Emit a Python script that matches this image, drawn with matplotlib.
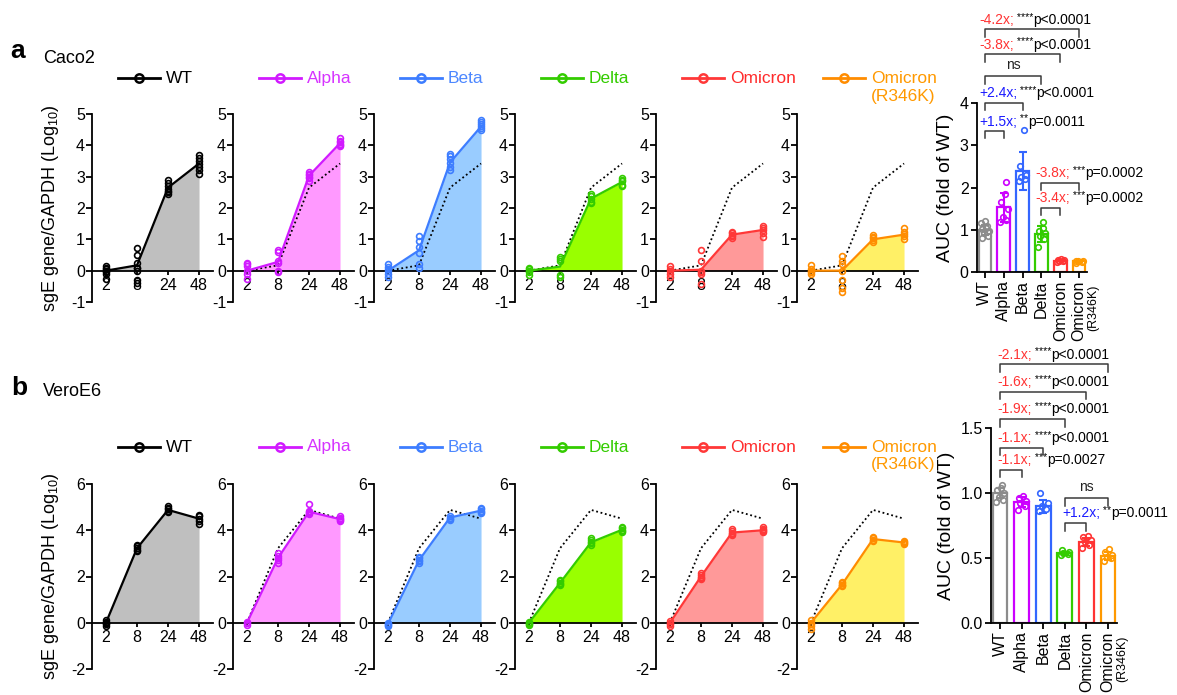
import numpy as np
import matplotlib.pyplot as plt
from matplotlib.lines import Line2D

plt.rcParams['font.family'] = ['Liberation Sans', 'DejaVu Sans']
plt.rcParams['mathtext.fontset'] = 'custom'
plt.rcParams['mathtext.rm'] = 'Liberation Sans'
plt.rcParams['axes.unicode_minus'] = False

# ---- data ----
hours = ['2', '8', '24', '48']
variants = ['WT', 'Alpha', 'Beta', 'Delta', 'Omicron', 'Omicron (R346K)']
bar_labels = ['WT', 'Alpha', 'Beta', 'Delta', 'Omicron', 'Omicron']

line_colors = ['#000000', '#d11aff', '#3d7dff', '#33cc00', '#ff3838', '#ff8c00']
fill_colors = ['#bfbfbf', '#ff99ff', '#99ccff', '#99ff00', '#ff9999', '#fff066']
text_colors = ['#000000', '#d633ff', '#4d88ff', '#33cc00', '#ff2a2a', '#ff9900']
bar_colors = ['#8c8c8c', '#cc00ff', '#3366ff', '#33cc00', '#ff3333', '#ff9900']

# Caco2, sgE/GAPDH (log10), line = mean
caco2_mean = [
    [0.0, 0.17, 2.65, 3.42],
    [0.0, 0.28, 3.03, 4.07],
    [0.0, 0.65, 3.45, 4.60],
    [0.0, 0.13, 2.30, 2.83],
    [0.0, 0.03, 1.15, 1.30],
    [0.0, 0.00, 1.00, 1.15],
]
caco2_pts = [
    [[-0.25, -0.1, -0.05, 0.0, 0.05, 0.1, 0.15],
     [-0.4, -0.3, 0.0, 0.1, 0.1, 0.25, 0.5, 0.72],
     [2.45, 2.5, 2.55, 2.6, 2.7, 2.8, 2.9],
     [3.1, 3.2, 3.3, 3.4, 3.5, 3.6, 3.7]],
    [[-0.25, -0.1, 0.0, 0.15, 0.2, 0.25],
     [-0.05, 0.0, 0.25, 0.3, 0.6, 0.65],
     [2.85, 2.95, 3.0, 3.05, 3.1, 3.15],
     [3.98, 4.02, 4.05, 4.1, 4.15, 4.22]],
    [[-0.2, -0.1, 0.0, 0.05, 0.12, 0.2],
     [0.1, 0.2, 0.55, 0.75, 0.95, 1.12],
     [3.2, 3.3, 3.45, 3.55, 3.65, 3.72],
     [4.5, 4.55, 4.62, 4.68, 4.75, 4.8]],
    [[-0.15, -0.05, 0.0, 0.05, 0.1],
     [-0.2, -0.15, 0.3, 0.38, 0.45],
     [2.15, 2.2, 2.3, 2.38, 2.45],
     [2.7, 2.75, 2.85, 2.9, 2.97]],
    [[-0.2, -0.1, 0.0, 0.05, 0.15],
     [-0.42, -0.1, -0.05, 0.0, 0.3, 0.65],
     [1.05, 1.1, 1.15, 1.2, 1.25],
     [1.08, 1.2, 1.3, 1.35, 1.42]],
    [[-0.1, -0.05, 0.0, 0.05, 0.18],
     [-0.68, -0.55, -0.3, 0.0, 0.2, 0.32, 0.48],
     [0.92, 0.98, 1.03, 1.08, 1.15],
     [1.0, 1.1, 1.18, 1.25, 1.35]],
]

# VeroE6
vero_mean = [
    [0.0, 3.22, 4.88, 4.50],
    [0.0, 2.80, 4.80, 4.48],
    [-0.05, 2.70, 4.55, 4.85],
    [0.0, 1.72, 3.48, 4.02],
    [0.0, 2.00, 3.90, 4.00],
    [0.0, 1.65, 3.62, 3.47],
]
vero_pts = [
    [[-0.12, -0.05, 0.0, 0.05, 0.1], [3.1, 3.15, 3.22, 3.3, 3.35],
     [4.8, 4.85, 4.9, 4.95, 5.05], [4.25, 4.4, 4.5, 4.6, 4.65]],
    [[-0.08, 0.0, 0.05], [2.6, 2.7, 2.8, 2.9, 3.0],
     [4.7, 4.75, 4.8, 4.85, 5.15], [4.4, 4.45, 4.5, 4.55, 4.6]],
    [[-0.15, -0.1, -0.05, 0.0], [2.6, 2.65, 2.7, 2.8, 2.85],
     [4.45, 4.5, 4.55, 4.6], [4.75, 4.8, 4.85, 4.9, 4.95]],
    [[-0.1, -0.05, 0.0, 0.05], [1.62, 1.68, 1.72, 1.8, 1.85],
     [3.35, 3.45, 3.5, 3.6, 3.65], [3.92, 3.98, 4.02, 4.08, 4.15]],
    [[-0.12, -0.05, 0.0, 0.08], [1.9, 1.95, 2.0, 2.05, 2.15],
     [3.8, 3.85, 3.9, 3.98, 4.05], [3.92, 3.97, 4.0, 4.05, 4.12]],
    [[-0.25, -0.15, -0.05, 0.0, 0.1], [1.58, 1.62, 1.65, 1.7, 1.75],
     [3.55, 3.6, 3.65, 3.7], [3.4, 3.45, 3.5, 3.55]],
]

# AUC (fold of WT)
caco2_auc_mean = [1.0, 1.53, 2.38, 0.90, 0.27, 0.25]
caco2_auc_sd = [0.12, 0.35, 0.45, 0.18, 0.02, 0.02]
caco2_auc_pts = [
    [0.8, 0.85, 0.92, 0.98, 1.02, 1.05, 1.1, 1.15, 1.2],
    [1.18, 1.22, 1.3, 1.5, 1.65, 1.85, 2.12],
    [2.15, 2.2, 2.25, 2.3, 2.5, 3.35],
    [0.6, 0.78, 0.85, 0.92, 0.98, 1.05, 1.18],
    [0.24, 0.26, 0.27, 0.28, 0.29, 0.3],
    [0.22, 0.24, 0.25, 0.26, 0.27],
]
vero_auc_mean = [1.0, 0.93, 0.90, 0.535, 0.625, 0.515]
vero_auc_sd = [0.04, 0.04, 0.05, 0.015, 0.03, 0.03]
vero_auc_pts = [
    [0.93, 0.95, 0.97, 1.0, 1.02, 1.04, 1.06],
    [0.87, 0.9, 0.92, 0.94, 0.96, 0.98],
    [0.86, 0.88, 0.9, 0.92, 1.0],
    [0.52, 0.53, 0.54, 0.55, 0.56],
    [0.58, 0.6, 0.62, 0.64, 0.66, 0.67],
    [0.48, 0.5, 0.51, 0.52, 0.55, 0.57],
]

# comparisons: (group a, group b, bracket height, fold text, fold colour, stars, p text)
caco2_cmp = [
    (0, 1, 3.33, '+1.5x;', 'blue', '**', 'p=0.0011'),
    (0, 2, 4.00, '+2.4x;', 'blue', '****', 'p<0.0001'),
    (0, 3, 4.63, None, None, None, 'ns'),
    (0, 4, 5.15, '-3.8x;', 'red', '****', 'p<0.0001'),
    (0, 5, 5.74, '-4.2x;', 'red', '****', 'p<0.0001'),
    (3, 4, 1.51, '-3.4x;', 'red', '***', 'p=0.0002'),
    (3, 5, 2.10, '-3.8x;', 'red', '***', 'p=0.0002'),
]
vero_cmp = [
    (0, 1, 1.18, '-1.1x;', 'red', '***', 'p=0.0027'),
    (0, 2, 1.35, '-1.1x;', 'red', '****', 'p<0.0001'),
    (0, 3, 1.57, '-1.9x;', 'red', '****', 'p<0.0001'),
    (0, 4, 1.78, '-1.6x;', 'red', '****', 'p<0.0001'),
    (0, 5, 1.99, '-2.1x;', 'red', '****', 'p<0.0001'),
    (3, 5, 0.96, None, None, None, 'ns'),
    (3, 4, 0.77, '+1.2x;', 'blue', '**', 'p=0.0011'),
]
fold_rgb = {'red': '#ff3333', 'blue': '#1a1aff'}

W, H = 1177, 695
fig = plt.figure(figsize=(W / 100, H / 100), dpi=100)


def px_axes(left, top, right, bottom):
    return fig.add_axes([left / W, 1 - bottom / H, (right - left) / W, (bottom - top) / H])


def style_small(ax, ylim, yticks):
    ax.set_xlim(-0.45, 3.45)
    ax.set_ylim(*ylim)
    ax.set_yticks(yticks)
    ax.set_xticks(range(4))
    ax.set_xticklabels(hours)
    for s in ['top', 'right']:
        ax.spines[s].set_visible(False)
    ax.spines['bottom'].set_position(('data', 0))
    ax.spines['left'].set_linewidth(1.3)
    ax.spines['bottom'].set_linewidth(1.3)
    ax.tick_params(axis='y', length=4, width=1.3, labelsize=11.5, pad=1)
    ax.tick_params(axis='x', length=3, width=1.3, labelsize=11.5, pad=2)


def small_panel(ax, k, mean, pts, ref):
    x = np.arange(4)
    ax.fill_between(x, mean, 0, color=fill_colors[k], lw=0, zorder=1)
    if k > 0:
        ax.plot(x, ref, color='black', ls=(0, (1, 1.5)), lw=1.3, zorder=2)
    ax.plot(x, mean, color=line_colors[k], lw=1.6, zorder=3)
    for i, vals in enumerate(pts):
        ax.plot([i] * len(vals), vals, 'o', ms=4.2, mfc='none', mec=line_colors[k],
                mew=1.2, zorder=4, clip_on=False)


def legend_row(axes, y):
    for k, ax in enumerate(axes):
        ax.add_line(Line2D([0.215, 0.56], [y, y], transform=ax.transAxes, color=line_colors[k],
                           lw=2, clip_on=False))
        ax.add_line(Line2D([0.39], [y], transform=ax.transAxes, marker='o', ms=6, mfc='none',
                           mec=line_colors[k], mew=1.8, clip_on=False))
        if k < 5:
            ax.text(0.61, y, variants[k], transform=ax.transAxes, color=text_colors[k],
                    fontsize=12.5, va='center', ha='left')
        else:
            ax.text(0.61, y, 'Omicron', transform=ax.transAxes, color=text_colors[k],
                    fontsize=12.5, va='center', ha='left')
            ax.text(0.61, y - 0.095, '(R346K)', transform=ax.transAxes, color=text_colors[k],
                    fontsize=12.5, va='center', ha='left')


def bar_panel(ax, means, sds, pts, ylim, yticks, fmt):
    x = np.arange(6)
    offs = [-0.18, 0.14, -0.06, 0.2, -0.14, 0.06, 0.1, -0.2, 0.0]
    for i in x:
        ax.bar(i, means[i], width=0.68, facecolor='white', edgecolor=bar_colors[i], lw=1.6, zorder=2)
        ax.errorbar(i, means[i], yerr=sds[i], color=bar_colors[i], lw=1.5, capsize=3,
                    capthick=1.5, zorder=3)
        ax.plot(i + np.array(offs[:len(pts[i])]), pts[i], 'o', ms=4, mfc='none',
                mec=bar_colors[i], mew=1.2, zorder=4)
    ax.set_xlim(-0.42, 5.42)
    ax.set_ylim(*ylim)
    ax.set_yticks(yticks)
    ax.set_yticklabels([fmt.format(t) for t in yticks])
    ax.set_xticks(x)
    ax.set_xticklabels(bar_labels, rotation=90)
    for s in ['top', 'right']:
        ax.spines[s].set_visible(False)
    ax.spines['left'].set_linewidth(1.3)
    ax.spines['bottom'].set_linewidth(1.3)
    ax.tick_params(axis='both', length=4, width=1.3, labelsize=11.5, pad=2)
    ax.annotate('(R346K)', xy=(5, 0), xycoords='data', xytext=(10.5, -9),
                textcoords='offset points', rotation=90, ha='center', va='top', fontsize=9,
                annotation_clip=False)
    ax.set_ylabel('AUC (fold of WT)', fontsize=14, labelpad=4)


def brackets(ax, cmps, drop, txt_dx):
    for a, b, h, fold, fc, stars, ptxt in cmps:
        ax.plot([a, a, b, b], [h - drop, h, h, h - drop], color='#3a3a3a', lw=1.1,
                clip_on=False, zorder=5)
        if fold is None:
            ax.annotate(ptxt, xy=((a + b) / 2, h), xytext=(0, 3), textcoords='offset points',
                        ha='center', va='bottom', fontsize=10, color='#222222',
                        annotation_clip=False)
            continue
        t1 = ax.annotate(fold, xy=(a + txt_dx, h), xytext=(0, 2), textcoords='offset points',
                         ha='left', va='bottom', fontsize=10, color=fold_rgb[fc],
                         annotation_clip=False)
        t2 = ax.annotate(' ' + stars, xy=(1, 0), xycoords=t1, xytext=(0, 3.0),
                         textcoords='offset points', ha='left', va='bottom', fontsize=7.5,
                         color='black')
        ax.annotate(ptxt, xy=(1, 0), xycoords=t2, xytext=(0, -3.0), textcoords='offset points',
                    ha='left', va='bottom', fontsize=10, color='black')


# ---- panel a: Caco2 ----
lefts = [92 + 141 * k for k in range(6)]
axes_a = []
for k in range(6):
    ax = px_axes(lefts[k], 114, lefts[k] + 121, 302)
    style_small(ax, (-1, 5), range(-1, 6))
    small_panel(ax, k, caco2_mean[k], caco2_pts[k], caco2_mean[0])
    axes_a.append(ax)
axes_a[0].set_ylabel('sgE gene/GAPDH (Log$_{10}$)', fontsize=13, labelpad=7)
legend_row(axes_a, 1.19)

bax_a = px_axes(977, 103, 1087, 272)
bar_panel(bax_a, caco2_auc_mean, caco2_auc_sd, caco2_auc_pts, (0, 4), [0, 1, 2, 3, 4], '{:.0f}')
brackets(bax_a, caco2_cmp, 0.17, -0.32)

# ---- panel b: VeroE6 ----
axes_b = []
for k in range(6):
    ax = px_axes(lefts[k], 484, lefts[k] + 121, 669)
    style_small(ax, (-2, 6), [-2, 0, 2, 4, 6])
    small_panel(ax, k, vero_mean[k], vero_pts[k], vero_mean[0])
    axes_b.append(ax)
axes_b[0].set_ylabel('sgE gene/GAPDH (Log$_{10}$)', fontsize=13, labelpad=7)
legend_row(axes_b, 1.2)

bax_b = px_axes(991, 428, 1117, 623)
bar_panel(bax_b, vero_auc_mean, vero_auc_sd, vero_auc_pts, (0, 1.5), [0, 0.5, 1.0, 1.5], '{:.1f}')
brackets(bax_b, vero_cmp, 0.06, -0.12)

fig.text(10 / W, 1 - 58 / H, 'a', fontsize=19, fontweight='bold', ha='left', va='baseline')
fig.text(43 / W, 1 - 63 / H, 'Caco2', fontsize=13, ha='left', va='baseline')
fig.text(11 / W, 1 - 395 / H, 'b', fontsize=19, fontweight='bold', ha='left', va='baseline')
fig.text(43 / W, 1 - 396 / H, 'VeroE6', fontsize=13, ha='left', va='baseline')

fig.savefig('out.png', dpi=100)
